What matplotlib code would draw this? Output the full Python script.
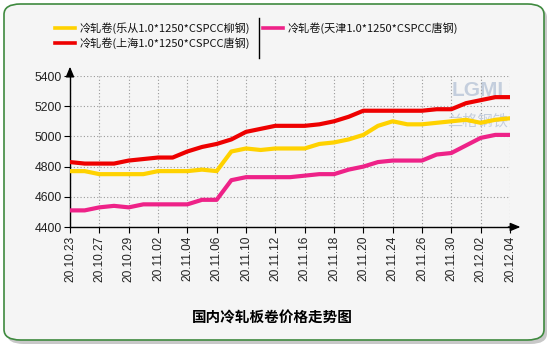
import matplotlib
matplotlib.use("Agg")
import matplotlib.pyplot as plt
from matplotlib.patches import FancyBboxPatch
from matplotlib.lines import Line2D

dates = ["20.10.23", "20.10.26", "20.10.27", "20.10.28", "20.10.29", "20.10.30",
         "20.11.02", "20.11.03", "20.11.04", "20.11.05", "20.11.06", "20.11.09",
         "20.11.10", "20.11.11", "20.11.12", "20.11.13", "20.11.16", "20.11.17",
         "20.11.18", "20.11.19", "20.11.20", "20.11.23", "20.11.24", "20.11.25",
         "20.11.26", "20.11.27", "20.11.30", "20.12.01", "20.12.02", "20.12.03",
         "20.12.04"]

lecong = [4770, 4770, 4750, 4750, 4750, 4750, 4770, 4770, 4770, 4780, 4770, 4900,
          4920, 4910, 4920, 4920, 4920, 4950, 4960, 4980, 5010, 5070, 5100, 5080,
          5080, 5090, 5100, 5110, 5090, 5110, 5120]
shanghai = [4830, 4820, 4820, 4820, 4840, 4850, 4860, 4860, 4900, 4930, 4950, 4980,
            5030, 5050, 5070, 5070, 5070, 5080, 5100, 5130, 5170, 5170, 5170, 5170,
            5170, 5180, 5180, 5220, 5240, 5260, 5260]
tianjin = [4510, 4510, 4530, 4540, 4530, 4550, 4550, 4550, 4550, 4580, 4580, 4710,
           4730, 4730, 4730, 4730, 4740, 4750, 4750, 4780, 4800, 4830, 4840, 4840,
           4840, 4880, 4890, 4940, 4990, 5010, 5010]

series_names = ["冷轧卷(乐从1.0*1250*CSPCC柳钢)", "冷轧卷(上海1.0*1250*CSPCC唐钢)",
                "冷轧卷(天津1.0*1250*CSPCC唐钢)"]
colors = ["#FFD200", "#EE0000", "#EE2288"]
yticks = [4400, 4600, 4800, 5000, 5200, 5400]
title = "国内冷轧板卷价格走势图"

W, H = 550, 350
fig = plt.figure(figsize=(W / 100, H / 100), dpi=100, facecolor="white")

def fx(px):
    return px / W

def fy(py):
    return 1 - py / H

# background panel with shadow and green border
shadow = FancyBboxPatch((fx(7), fy(344)), fx(540), fy(7) - fy(344),
                        boxstyle="round,pad=0,rounding_size=0.03",
                        transform=fig.transFigure, facecolor="#c8c8c8",
                        edgecolor="none", zorder=-3)
panel = FancyBboxPatch((fx(4), fy(340)), fx(540), fy(4) - fy(340),
                       boxstyle="round,pad=0,rounding_size=0.03",
                       transform=fig.transFigure, facecolor="#F5F5F5",
                       edgecolor="#3F8A3F", linewidth=1.2, zorder=-2)
fig.patches.extend([shadow, panel])

ax = fig.add_axes([fx(70), fy(227), fx(510) - fx(70), fy(76) - fy(227)])
ax.set_zorder(2)
ax.patch.set_alpha(0)

x = list(range(len(dates)))
for vals, c in zip([lecong, shanghai, tianjin], colors):
    ax.plot(x, vals, color=c, lw=3.0, solid_joinstyle="round",
            solid_capstyle="round", zorder=3)

ax.set_xlim(0, len(dates) - 1)
ax.set_ylim(4400, 5400)
ax.set_yticks(yticks)
ax.set_yticklabels([str(v) for v in yticks], fontsize=8.8,
                   family="Liberation Sans", color="#222222")
ax.set_xticks(x[::2])
ax.set_xticklabels(dates[::2], rotation=90, fontsize=8.6,
                   family="Liberation Sans", color="#222222")
ax.tick_params(axis="both", length=4, width=0.8, color="black", pad=2)
ax.grid(True, color="#999999", linestyle=(0, (1, 2)), linewidth=0.8, zorder=1)

for s in ["top", "right"]:
    ax.spines[s].set_visible(False)
ax.spines["left"].set_linewidth(1.0)
ax.spines["bottom"].set_linewidth(1.0)

# axis arrows
ax.annotate("", xy=(0, 1.08), xytext=(0, 0.99), xycoords="axes fraction",
            arrowprops=dict(arrowstyle="-|>,head_length=0.6,head_width=0.25",
                            color="black", lw=1.0), annotation_clip=False)
ax.annotate("", xy=(1.03, 0), xytext=(0.99, 0), xycoords="axes fraction",
            arrowprops=dict(arrowstyle="-|>,head_length=0.6,head_width=0.25",
                            color="black", lw=1.0), annotation_clip=False)

# watermark
fig.text(fx(478), fy(90), "LGMI", fontsize=15, color="#8aa0c0", alpha=0.45,
         ha="center", va="center", family="Liberation Sans", fontweight="bold",
         zorder=1)
fig.text(fx(478), fy(121), "兰格钢铁", fontsize=11, color="#8aa0c0", alpha=0.45,
         ha="center", va="center", family=["Noto Sans CJK SC", "DejaVu Sans"],
         zorder=1)

# legend
leg_font = ["Noto Sans CJK SC", "DejaVu Sans"]
legend_pos = [(55, 28), (55, 43), (263, 28)]
for (lx, ly), name, c in zip(legend_pos, series_names, colors):
    fig.add_artist(Line2D([fx(lx), fx(lx + 20)], [fy(ly), fy(ly)], color=c,
                          lw=2.6, transform=fig.transFigure))
    fig.text(fx(lx + 25), fy(ly), name, fontsize=8.0, family=leg_font,
             ha="left", va="center", color="#111111")
fig.add_artist(Line2D([fx(259), fx(259)], [fy(18), fy(58)], color="black",
                      lw=1.0, transform=fig.transFigure))

fig.text(fx(272), fy(318), title, fontsize=10.5, fontweight="bold",
         family=leg_font, ha="center", va="center", color="black")

fig.savefig("out.png", dpi=100, facecolor="white")
